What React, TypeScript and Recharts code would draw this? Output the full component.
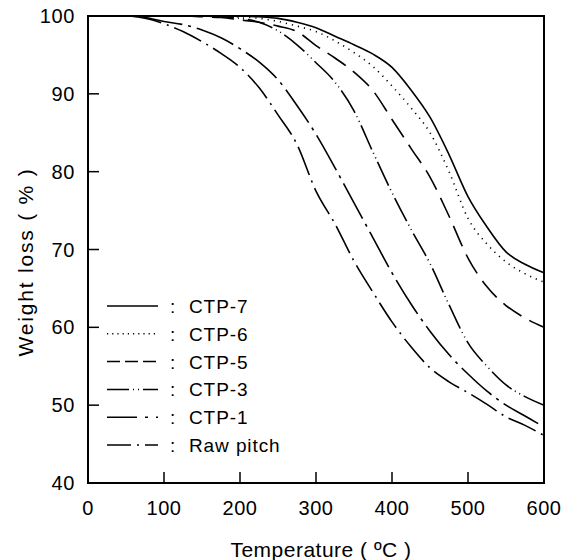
import { LineChart, Line, XAxis, YAxis, ReferenceArea } from 'recharts'

// temperature grid (°C) and weight readings (%)
const temps = [0, 25, 50, 75, 100, 125, 150, 175, 200, 225, 250, 275, 300, 325, 350, 375, 400, 425, 450, 475, 500, 525, 550, 575, 600]

const ctp7 = [100, 100, 100, 100, 100, 100, 100, 100, 100, 99.9, 99.7, 99.2, 98.5, 97.4, 96.3, 95.1, 93.4, 90.5, 87, 82.2, 76.8, 72.9, 69.7, 68.1, 67]
const ctp6 = [100, 100, 100, 100, 100, 100, 100, 100, 99.9, 99.7, 99.3, 98.7, 98, 96.8, 95.3, 93.5, 91, 88.2, 85, 80, 74, 70.7, 68.4, 66.9, 65.8]
const ctp5 = [100, 100, 100, 100, 100, 100, 99.9, 99.8, 99.5, 99.2, 98.7, 98, 96.2, 94.6, 92.8, 90.4, 86.7, 83, 79.3, 74.3, 68.9, 65.2, 62.8, 61.2, 60]
const ctp3 = [100, 100, 100, 100, 100, 100, 100, 99.9, 99.7, 99.2, 98.1, 96.3, 94, 91.5, 87.8, 82.5, 77.3, 72.6, 68.2, 62.9, 58, 55, 52.6, 51.1, 50]
const ctp1 = [100, 100, 100, 99.8, 99.3, 98.9, 98.2, 97.2, 95.8, 94.1, 91.8, 88.5, 84.8, 80.5, 76, 71.5, 67, 63, 59.5, 56.5, 54, 51.8, 50, 48.6, 47.2]
const rawPitch = [100, 100, 100, 99.7, 99, 98, 96.7, 95.2, 93.4, 90.8, 87.3, 83.5, 77.5, 73.3, 68.5, 64.5, 60.7, 57.5, 54.8, 53, 51.6, 50.1, 48.5, 47.4, 46.1]

const xTicks = [0, 100, 200, 300, 400, 500, 600]
const yTicks = [40, 50, 60, 70, 80, 90, 100]

const series = [
  { key: 'ctp7', name: 'CTP-7', dash: undefined, legendDash: undefined },
  { key: 'ctp6', name: 'CTP-6', dash: '1.2 5', legendDash: '1.2 4' },
  { key: 'ctp5', name: 'CTP-5', dash: '22 9', legendDash: '13 5' },
  { key: 'ctp3', name: 'CTP-3', dash: '26 4 1 4 1 4', legendDash: '22 4 1 4 1 4' },
  { key: 'ctp1', name: 'CTP-1', dash: '40 6 3 6', legendDash: '30 8 3 8' },
  { key: 'raw', name: 'Raw pitch', dash: '30 6 2 6', legendDash: '24 6 2 6' },
]

const data = temps.map((t, i) => ({
  t,
  ctp7: ctp7[i],
  ctp6: ctp6[i],
  ctp5: ctp5[i],
  ctp3: ctp3[i],
  ctp1: ctp1[i],
  raw: rawPitch[i],
}))

const font = '"Liberation Sans", Arial, Helvetica, sans-serif'

const YTick = ({ x, y, payload }: any) => (
  <g>
    <line x1={x} x2={x + 11} y1={y} y2={y} stroke="#000" strokeWidth={1.5} />
    <text x={x - 13} y={y} dy={7} textAnchor="end" fontSize={20} fontFamily={font} fill="#000" letterSpacing={0.6}>
      {payload.value}
    </text>
  </g>
)

const XTick = ({ x, y, payload }: any) => (
  <g>
    <line x1={x} x2={x} y1={y} y2={y - 11} stroke="#000" strokeWidth={1.5} />
    <text x={x} y={y + 32} textAnchor="middle" fontSize={20} fontFamily={font} fill="#000" letterSpacing={0.6}>
      {payload.value}
    </text>
  </g>
)

const LegendBox = () => (
  <svg width={220} height={175} style={{ display: 'block' }}>
    {series.map((s, i) => {
      const cy = 16 + i * 27.8
      return (
        <g key={s.key}>
          <line x1={7} x2={58} y1={cy} y2={cy} stroke="#000" strokeWidth={1.5} strokeDasharray={s.legendDash} />
          <text x={70} y={cy + 7} fontSize={19} fontFamily={font} fill="#000">:</text>
          <text x={89} y={cy + 7} fontSize={19} fontFamily={font} fill="#000" letterSpacing={0.9}>
            {s.name}
          </text>
        </g>
      )
    })}
  </svg>
)

export default function App() {
  return (
    <div style={{ width: 577, height: 560, position: 'relative', background: '#fff' }}>
      <style>{'body{margin:0;background:#fff}'}</style>
      <LineChart width={577} height={560} data={data} margin={{ top: 16, right: 33, bottom: 0, left: 0 }}>
        <XAxis
          dataKey="t"
          type="number"
          domain={[0, 600]}
          ticks={xTicks}
          height={77}
          tickLine={false}
          tickSize={0}
          tickMargin={0}
          tick={<XTick />}
          axisLine={{ stroke: '#000', strokeWidth: 2 }}
          label={{
            content: () => (
              <text x={321} y={557} textAnchor="middle" fontSize={21} fontFamily={font} fill="#000" letterSpacing={0.5}>
                Temperature ( ºC )
              </text>
            ),
          }}
        />
        <YAxis
          type="number"
          domain={[40, 100]}
          ticks={yTicks}
          width={88}
          tickLine={false}
          tickSize={0}
          tickMargin={0}
          tick={<YTick />}
          axisLine={{ stroke: '#000', strokeWidth: 2 }}
          label={{
            content: () => (
              <text
                x={33}
                y={262}
                transform="rotate(-90, 33, 262)"
                textAnchor="middle"
                fontSize={21}
                fontFamily={font}
                fill="#000"
                letterSpacing={1.8}
              >
                Weight loss ( % )
              </text>
            ),
          }}
        />
        <ReferenceArea x1={0} x2={600} y1={40} y2={100} fill="none" stroke="#000" strokeWidth={2} ifOverflow="visible" />
        {series.map((s) => (
          <Line
            key={s.key}
            type="monotone"
            dataKey={s.key}
            name={s.name}
            stroke="#000"
            strokeWidth={1.6}
            strokeDasharray={s.dash}
            dot={false}
            isAnimationActive={false}
          />
        ))}
      </LineChart>
      <div style={{ position: 'absolute', left: 100, top: 290 }}>
        <LegendBox />
      </div>
    </div>
  )
}
